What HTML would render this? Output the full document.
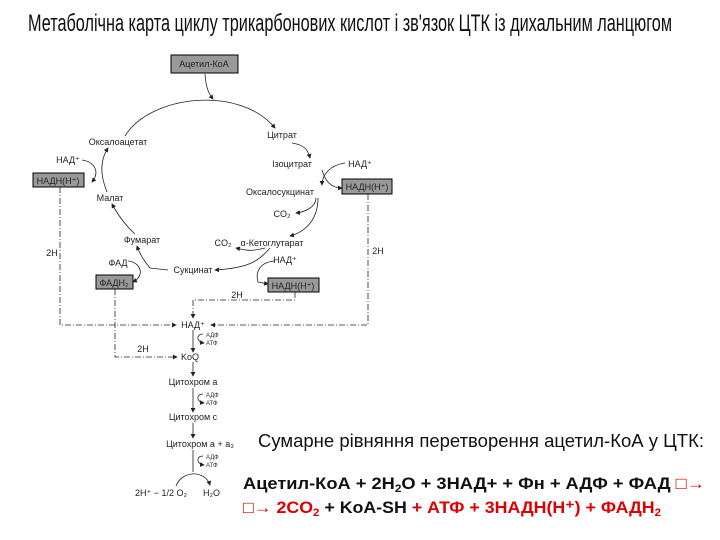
<!DOCTYPE html>
<html><head><meta charset="utf-8"><style>body{margin:0;background:#fff}svg{display:block}</style></head><body>
<svg width="720" height="540" viewBox="0 0 720 540" xmlns="http://www.w3.org/2000/svg" font-family="Liberation Sans, sans-serif">
<defs><marker id="a" markerWidth="6" markerHeight="6" refX="5" refY="3" orient="auto"><path d="M0,0 L6,3 L0,6z" fill="#222"/></marker></defs>
<text x="28" y="31" font-size="24" textLength="644" lengthAdjust="spacingAndGlyphs" fill="#111">Метаболічна карта циклу трикарбонових кислот і зв'язок ЦТК із дихальним ланцюгом</text>
<g font-size="9" fill="#222">
<rect x="171" y="55" width="67" height="18" fill="#999" stroke="#000"/><text x="204" y="67" text-anchor="middle">Ацетил-КоА</text>
<rect x="33" y="173" width="51" height="14" fill="#999" stroke="#000"/><text x="58" y="184" text-anchor="middle">НАДН(Н⁺)</text>
<rect x="342" y="179" width="50" height="15" fill="#999" stroke="#000"/><text x="367" y="190" text-anchor="middle">НАДН(Н⁺)</text>
<rect x="96" y="275" width="37" height="14" fill="#999" stroke="#000"/><text x="114" y="286" text-anchor="middle">ФАДН₂</text>
<rect x="268" y="278" width="51" height="14" fill="#999" stroke="#000"/><text x="293" y="289" text-anchor="middle">НАДН(Н⁺)</text>
<text x="118" y="145" text-anchor="middle">Оксалоацетат</text>
<text x="282" y="138" text-anchor="middle">Цитрат</text>
<text x="292" y="167" text-anchor="middle">Ізоцитрат</text>
<text x="360" y="167" text-anchor="middle">НАД⁺</text>
<text x="280" y="195" text-anchor="middle">Оксалосукцинат</text>
<text x="282" y="217" text-anchor="middle">CO₂</text>
<text x="272" y="246" text-anchor="middle">α-Кетоглутарат</text>
<text x="223" y="246" text-anchor="middle">CO₂</text>
<text x="285" y="263" text-anchor="middle">НАД⁺</text>
<text x="193" y="273" text-anchor="middle">Сукцинат</text>
<text x="142" y="243" text-anchor="middle">Фумарат</text>
<text x="118" y="266" text-anchor="middle">ФАД</text>
<text x="110" y="201" text-anchor="middle">Малат</text>
<text x="68" y="163" text-anchor="middle">НАД⁺</text>
<text x="52" y="256" text-anchor="middle">2H</text>
<text x="378" y="254" text-anchor="middle">2H</text>
<text x="237" y="298" text-anchor="middle">2H</text>
<text x="143" y="352" text-anchor="middle">2H</text>
<text x="193" y="328" text-anchor="middle">НАД⁺</text>
<text x="190" y="360" text-anchor="middle">KoQ</text>
<text x="193" y="385" text-anchor="middle">Цитохром a</text>
<text x="193" y="420" text-anchor="middle">Цитохром c</text>
<text x="200" y="447" text-anchor="middle">Цитохром a + a₃</text>
<text x="135" y="496">2H⁺ − 1/2 O₂</text><text x="203" y="496">H₂O</text>
</g>
<g font-size="6" fill="#333">
<text x="206" y="337">АДФ</text><text x="206" y="345">АТФ</text>
<text x="206" y="397">АДФ</text><text x="206" y="405">АТФ</text>
<text x="206" y="459">АДФ</text><text x="206" y="467">АТФ</text>
</g>
<g fill="none" stroke="#222" stroke-width="0.8">
<path d="M205,74 C206,90 210,95 213,99" marker-end="url(#a)"/>
<path d="M125,136 C150,95 240,85 275,128" marker-end="url(#a)"/>
<path d="M292,143 C305,145 308,150 310,158" marker-end="url(#a)"/>
<path d="M345,163 C330,165 322,175 322,185" marker-end="url(#a)"/>
<path d="M322,170 C325,180 330,188 342,188" marker-end="url(#a)"/>
<path d="M316,198 C316,207 305,212 296,213" marker-end="url(#a)"/>
<path d="M318,198 C318,220 305,232 290,236" marker-end="url(#a)"/>
<path d="M265,248 C250,252 245,250 236,248" marker-end="url(#a)"/>
<path d="M270,248 C260,260 250,268 215,270" marker-end="url(#a)"/>
<path d="M275,261 C260,262 255,272 258,282 L268,284" marker-end="url(#a)"/>
<path d="M168,270 L150,268 C145,262 140,255 137,246" marker-end="url(#a)"/>
<path d="M128,261 C140,262 146,275 133,282" marker-end="url(#a)"/>
<path d="M135,234 C125,225 118,215 112,204" marker-end="url(#a)"/>
<path d="M107,192 C100,175 100,160 108,148" marker-end="url(#a)"/>
<path d="M82,160 C95,162 100,172 92,182" marker-end="url(#a)"/>
<path d="M193,330 L193,352" marker-end="url(#a)"/>
<path d="M193,362 L193,376" marker-end="url(#a)"/>
<path d="M193,388 L193,412" marker-end="url(#a)"/>
<path d="M193,423 L193,438" marker-end="url(#a)"/>
<path d="M193,450 L193,472"/>
<path d="M203,334 C196,334 196,342 204,343" marker-end="url(#a)"/>
<path d="M203,394 C196,394 196,402 204,403" marker-end="url(#a)"/>
<path d="M203,456 C196,456 196,464 204,465" marker-end="url(#a)"/>
<path d="M176,486 C182,470 205,470 210,485" marker-end="url(#a)"/>
</g>
<g fill="none" stroke="#222" stroke-width="0.8" stroke-dasharray="6,2,1,2">
<path d="M60,187 L60,325 L176,325" marker-end="url(#a)"/>
<path d="M115,289 L115,357 L177,357" marker-end="url(#a)"/>
<path d="M368,194 L368,325 L211,325" marker-end="url(#a)"/>
<path d="M295,292 L295,300 L193,300 L193,318" marker-end="url(#a)"/>
</g>
<text x="258" y="447" font-size="18.5" fill="#111" textLength="446" lengthAdjust="spacingAndGlyphs">Сумарне рівняння перетворення ацетил-КоА у  ЦТК:</text>
<g font-size="17" font-weight="bold">
<text x="243" y="489" fill="#111" textLength="462" lengthAdjust="spacingAndGlyphs">Ацетил-КоА + 2H<tspan font-size="11" dy="3">2</tspan><tspan dy="-3">O + 3НАД+ + Фн + АДФ + ФАД </tspan><tspan fill="#d00">□→</tspan></text>
<text x="243" y="513" fill="#d00" textLength="418" lengthAdjust="spacingAndGlyphs">□→ 2CO<tspan font-size="11" dy="3">2</tspan><tspan dy="-3" fill="#111"> + KoA-SH</tspan><tspan> + АТФ + 3НАДН(Н⁺) + ФАДН</tspan><tspan font-size="11" dy="3">2</tspan></text>
</g>
</svg>
</body></html>
